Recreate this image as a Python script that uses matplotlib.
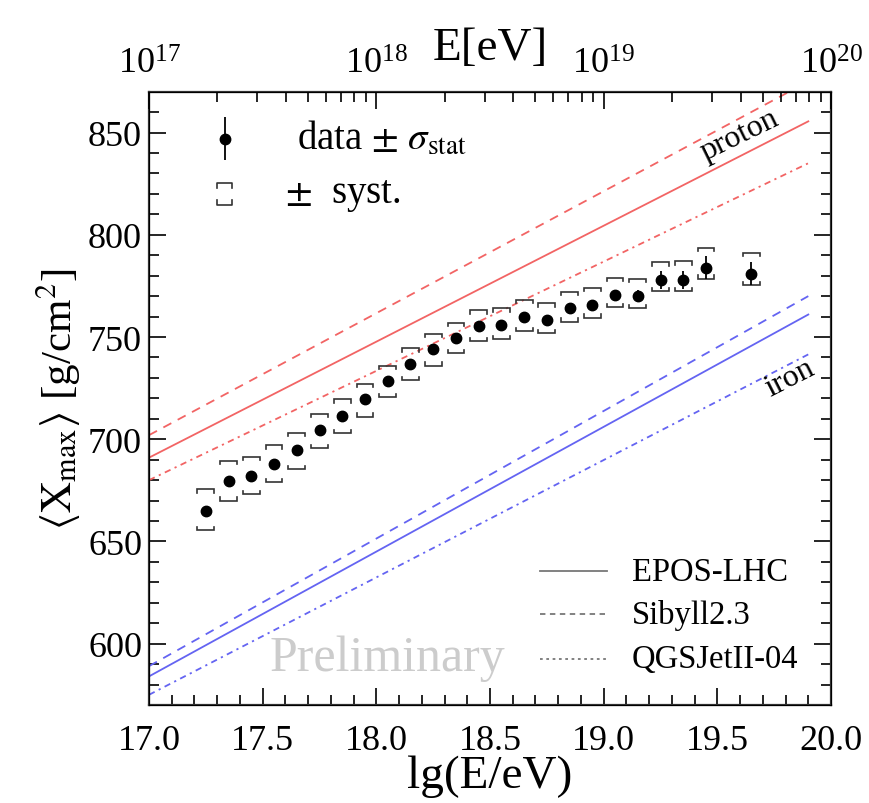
import numpy as np
import matplotlib
matplotlib.use('Agg')
import matplotlib.pyplot as plt
from matplotlib.ticker import MultipleLocator, LogLocator, NullFormatter

plt.rcParams['font.family'] = ['Liberation Serif', 'DejaVu Serif']
plt.rcParams['mathtext.fontset'] = 'stix'

# ========== data ==========
lg_e = [17.25, 17.35, 17.45, 17.55, 17.65, 17.75, 17.85, 17.95, 18.05, 18.15,
        18.25, 18.35, 18.45, 18.55, 18.65, 18.75, 18.85, 18.95, 19.05, 19.15,
        19.25, 19.35, 19.45, 19.65]
xmax = [665.0, 679.5, 682.0, 688.0, 694.5, 704.5, 711.5, 719.5, 728.5, 737.0,
        744.0, 749.5, 755.5, 756.0, 760.0, 758.5, 764.0, 765.5, 770.5, 770.0,
        778.0, 778.0, 784.0, 781.0]
stat_err = [2.0, 1.5, 1.5, 1.5, 1.5, 1.5, 1.5, 1.5, 1.5, 1.5,
            1.5, 1.5, 1.5, 1.5, 2.0, 2.0, 2.0, 2.0, 2.5, 3.0,
            4.5, 4.5, 5.5, 5.5]
sys_up = [10.5, 10.0, 9.5, 9.0, 8.5, 8.0, 8.0, 7.5, 7.5, 7.5,
          7.5, 7.5, 7.5, 8.0, 8.0, 8.0, 8.0, 8.5, 8.5, 8.5,
          8.5, 9.0, 9.5, 10.0]
sys_lo = [9.5, 9.5, 9.0, 9.0, 9.0, 9.0, 8.5, 8.5, 8.0, 8.0,
          8.0, 7.5, 7.5, 7.0, 7.0, 6.5, 6.5, 6.0, 6.0, 6.0,
          5.5, 5.5, 5.5, 5.5]

# model predictions (straight lines), value at lg E = 17.0 and 19.9
model_lg = [17.0, 19.9]
proton_epos = [691.0, 855.5]
proton_sibyll = [702.0, 875.0]
proton_qgsjet = [680.0, 835.0]
iron_epos = [584.0, 761.0]
iron_sibyll = [589.0, 770.0]
iron_qgsjet = [575.0, 741.5]

red = '#f26464'
blue = '#6464f2'
dashdot = (0, (3.5, 2.5, 1.2, 2.5))

fig = plt.figure(figsize=(8.69, 8.04), dpi=100)
ax = fig.add_axes([0.1715, 0.1219, 0.7848, 0.7628])

# ---- model lines ----
ax.plot(model_lg, proton_epos, color=red, lw=1.3, ls='-')
ax.plot(model_lg, proton_sibyll, color=red, lw=1.3, ls=(0, (5, 4)))
ax.plot(model_lg, proton_qgsjet, color=red, lw=1.3, ls=dashdot)
ax.plot(model_lg, iron_epos, color=blue, lw=1.3, ls='-')
ax.plot(model_lg, iron_sibyll, color=blue, lw=1.3, ls=(0, (5, 4)))
ax.plot(model_lg, iron_qgsjet, color=blue, lw=1.3, ls=dashdot)

# ---- systematic brackets ----
hw = 0.037
tick = 1.6
for x, y, su, sl in zip(lg_e, xmax, sys_up, sys_lo):
    top = y + su
    bot = y - sl
    ax.plot([x - hw, x - hw, x + hw, x + hw], [top - tick, top, top, top - tick],
            color='#333333', lw=1.2, solid_joinstyle='miter')
    ax.plot([x - hw, x - hw, x + hw, x + hw], [bot + tick, bot, bot, bot + tick],
            color='#333333', lw=1.2, solid_joinstyle='miter')

# ---- data points ----
ax.errorbar(lg_e, xmax, yerr=stat_err, fmt='o', color='black', ms=7.5,
            elinewidth=1.3, capsize=0, zorder=5)

# ---- labels on the lines ----
ax.text(19.6, 849, 'proton', rotation=26, ha='center', va='center', fontsize=23)
ax.text(19.82, 730, 'iron', rotation=27, ha='center', va='center', fontsize=23)
ax.text(18.05, 593, 'Preliminary', color='#cccccc', ha='center', va='center', fontsize=36)

# ---- legend, top left ----
ax.errorbar([0.111], [0.923], yerr=[0.035], fmt='o', color='black', ms=7.5,
            elinewidth=1.3, transform=ax.transAxes, clip_on=False)
ax.text(0.217, 0.923, r'data $\pm$ $\sigma_{\mathrm{stat}}$', transform=ax.transAxes,
        ha='left', va='center', fontsize=28)
bx, bw, bt, bb, bk = 0.111, 0.011, 0.851, 0.815, 0.008
ax.plot([bx - bw, bx - bw, bx + bw, bx + bw], [bt - bk, bt, bt, bt - bk],
        color='#333333', lw=1.2, transform=ax.transAxes)
ax.plot([bx - bw, bx - bw, bx + bw, bx + bw], [bb + bk, bb, bb, bb + bk],
        color='#333333', lw=1.2, transform=ax.transAxes)
ax.text(0.2, 0.833, r'$\pm$  syst.', transform=ax.transAxes,
        ha='left', va='center', fontsize=28)

# ---- legend, bottom right ----
model_names = ['EPOS-LHC', 'Sibyll2.3', 'QGSJetII-04']
model_styles = ['-', (0, (3, 2.5)), (0, (1.5, 2.0))]
rows = [0.218, 0.148, 0.075]
for name, st, yy in zip(model_names, model_styles, rows):
    ax.plot([0.573, 0.672], [yy, yy], color='#777777', lw=1.3, ls=st,
            transform=ax.transAxes)
    ax.text(0.708, yy, name, transform=ax.transAxes, ha='left', va='center', fontsize=23.5)

# ---- axes ----
ax.set_xlim(17.0, 20.0)
ax.set_ylim(570, 870)
ax.xaxis.set_major_locator(MultipleLocator(0.5))
ax.xaxis.set_minor_locator(MultipleLocator(0.1))
ax.yaxis.set_major_locator(MultipleLocator(50))
ax.yaxis.set_minor_locator(MultipleLocator(10))
ax.xaxis.set_major_formatter(matplotlib.ticker.FormatStrFormatter('%.1f'))
ax.tick_params(which='both', direction='in', right=True, top=False, width=1.2, labelsize=26)
ax.tick_params(which='major', length=12)
ax.tick_params(which='minor', length=7)
ax.tick_params(axis='x', pad=14)
ax.tick_params(axis='y', pad=5)
for sp in ax.spines.values():
    sp.set_linewidth(1.6)
    sp.set_color('#333333')

ax.set_xlabel('lg(E/eV)', fontsize=34, labelpad=-2)
ax.set_ylabel(r'$\langle\mathrm{X}_{\mathrm{max}}\rangle$ [g/cm$^2$]', fontsize=31, labelpad=4)

ax2 = ax.twiny()
ax2.set_xscale('log')
ax2.set_xlim(10 ** 17.0, 10 ** 20.0)
ax2.xaxis.set_major_locator(LogLocator(base=10, numticks=10))
ax2.xaxis.set_minor_locator(LogLocator(base=10, subs=np.arange(2, 10), numticks=10))
ax2.xaxis.set_minor_formatter(NullFormatter())
ax2.tick_params(which='both', direction='in', width=1.2, labelsize=26, pad=8)
ax2.tick_params(which='major', length=12)
ax2.tick_params(which='minor', length=7)
ax2.set_xlabel('E[eV]', fontsize=34, labelpad=-8)

fig.savefig('out.png', dpi=100)
